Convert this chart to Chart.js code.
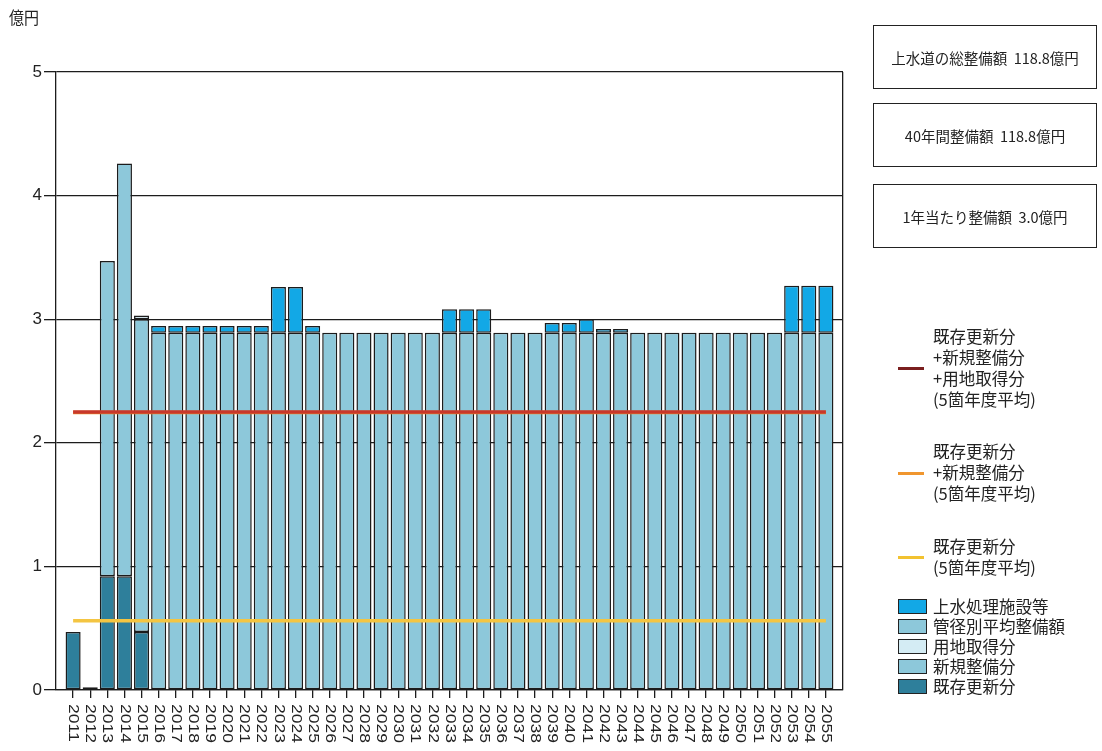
<!DOCTYPE html>
<html><head><meta charset="utf-8">
<script src="https://cdn.jsdelivr.net/npm/chart.js@4.4.0/dist/chart.umd.min.js"></script>
<style>
body{margin:0;background:#fff;width:1102px;height:751px;overflow:hidden;position:relative;font-family:"Noto Sans CJK JP","Noto Sans",sans-serif;color:#222;}
#c{position:absolute;left:0;top:0;}
.unit{position:absolute;left:9px;top:6px;font-size:15px;line-height:20px;transform:scaleY(1.12);transform-origin:left top;}
.box{position:absolute;left:873px;width:224px;height:64px;border:1.5px solid #222;box-sizing:border-box;display:flex;align-items:center;justify-content:center;font-size:14.5px;white-space:pre;}
.ltxt{position:absolute;left:933px;font-size:16.5px;line-height:21px;white-space:pre;}
.lline{position:absolute;left:898px;width:26px;height:3px;}
.sq{position:absolute;left:898px;width:29px;height:15px;border:1.5px solid #222;box-sizing:border-box;}
</style></head>
<body>
<canvas id="c" width="1102" height="751"></canvas>
<div class="unit">億円</div>
<div class="box" style="top:25px;height:64px;">上水道の総整備額  118.8億円</div>
<div class="box" style="top:103px;">40年間整備額  118.8億円</div>
<div class="box" style="top:184px;">1年当たり整備額  3.0億円</div>

<div class="lline" style="top:367px;background:#7a1f1f"></div>
<div class="ltxt" style="top:326px">既存更新分
+新規整備分
+用地取得分
(5箇年度平均)</div>
<div class="lline" style="top:472px;background:#f0962e"></div>
<div class="ltxt" style="top:441px">既存更新分
+新規整備分
(5箇年度平均)</div>
<div class="lline" style="top:556px;background:#f2c230"></div>
<div class="ltxt" style="top:536px">既存更新分
(5箇年度平均)</div>

<div class="sq" style="top:599px;background:#12a8e6"></div><div class="ltxt" style="top:596px">上水処理施設等</div>
<div class="sq" style="top:619px;background:#8dc8da"></div><div class="ltxt" style="top:616px">管径別平均整備額</div>
<div class="sq" style="top:639px;background:#d4ecf4"></div><div class="ltxt" style="top:636px">用地取得分</div>
<div class="sq" style="top:659px;background:#8dc8da"></div><div class="ltxt" style="top:656px">新規整備分</div>
<div class="sq" style="top:679px;background:#2e7f9b"></div><div class="ltxt" style="top:676px">既存更新分</div>

<script>
const years = [2011,2012,2013,2014,2015,2016,2017,2018,2019,2020,2021,2022,2023,2024,2025,2026,2027,2028,2029,2030,2031,2032,2033,2034,2035,2036,2037,2038,2039,2040,2041,2042,2043,2044,2045,2046,2047,2048,2049,2050,2051,2052,2053,2054,2055];
// 2011-2015
const existingRenewal = [0.47,0.022,0.92,0.92,0.47];
const newDevelopment  = [null,null,2.55,3.34,2.53];
const landAcquisition = [null,null,null,null,0.03];
// 2016-2055
const pipeAverage = [2.89,2.89,2.89,2.89,2.89,2.89,2.89,2.89,2.89,2.89,2.89,2.89,2.89,2.89,2.89,2.89,2.89,2.89,2.89,2.89,2.89,2.89,2.89,2.89,2.89,2.89,2.89,2.89,2.89,2.89,2.89,2.89,2.89,2.89,2.89,2.89,2.89,2.89,2.89,2.89];
const facilities  = [0.055,0.055,0.055,0.055,0.055,0.055,0.055,0.37,0.37,0.055,null,null,null,null,null,null,null,0.19,0.19,0.19,null,null,null,0.08,0.08,0.11,0.03,0.03,null,null,null,null,null,null,null,null,null,0.38,0.38,0.38];
// 5-year averages
const avgAll = [2.25];
const avgExistingNew = [2.245];
const avgExisting = [0.56];
const yTicks = [0,1,2,3,4,5];

const labels = ['', ...years.map(String), ''];
const early = arr => [null, ...years.map((y,i)=> i < arr.length ? arr[i] : null), null];
const late  = arr => [null, ...years.map((y,i)=> i >= 5 ? arr[i-5] : null), null];
const flat = v => [{x:String(years[0]), y:v}, {x:String(years[years.length-1]), y:v}];

const barBase = {type:'bar', stack:'s', borderColor:'#1c1c1c', borderWidth:1.5, borderSkipped:false, categoryPercentage:1, barPercentage:0.88, order:2};

const xLabelPlugin = {
  id:'xLabels',
  afterDraw(chart){
    const s = chart.scales.x, ctx = chart.ctx;
    const labs = s.getLabels();
    ctx.save();
    ctx.font = '14px "Liberation Sans", Arial, sans-serif';
    ctx.fillStyle = '#222';
    ctx.textAlign = 'left'; ctx.textBaseline = 'middle';
    s.ticks.forEach((t,i)=>{
      const lab = labs[t.value];
      if(!lab) return;
      const x = s.getPixelForTick(i);
      ctx.save();
      ctx.translate(x, s.top + 14);
      ctx.rotate(Math.PI/2);
      ctx.scale(1.25,1);
      ctx.fillText(lab, 0, 0);
      ctx.restore();
    });
    ctx.restore();
  }
};

new Chart(document.getElementById('c'), {
  data:{
    labels,
    datasets:[
      {...barBase, label:'既存更新分', data:early(existingRenewal), backgroundColor:'#2e7f9b'},
      {...barBase, label:'新規整備分', data:early(newDevelopment), backgroundColor:'#8dc8da'},
      {...barBase, label:'用地取得分', data:early(landAcquisition), backgroundColor:'#d4ecf4'},
      {...barBase, label:'管径別平均整備額', data:late(pipeAverage), backgroundColor:'#8dc8da'},
      {...barBase, label:'上水処理施設等', data:late(facilities), backgroundColor:'#12a8e6'},
      {type:'line', label:'既存更新分+新規整備分(5箇年度平均)', stack:'l2', data:flat(avgExistingNew[0]), borderColor:'#f0962e', borderWidth:3.5, pointRadius:0, order:1},
      {type:'line', label:'既存更新分+新規整備分+用地取得分(5箇年度平均)', stack:'l1', data:flat(avgAll[0]), borderColor:'#c8382b', borderWidth:3.5, pointRadius:0, order:0},
      {type:'line', label:'既存更新分(5箇年度平均)', stack:'l3', data:flat(avgExisting[0]), borderColor:'#f4c542', borderWidth:3.5, pointRadius:0, order:0}
    ]
  },
  options:{
    responsive:false, animation:false, devicePixelRatio:1,
    layout:{padding:{left:0, top:72, right:259, bottom:0}},
    plugins:{legend:{display:false}, tooltip:{enabled:false}},
    scales:{
      x:{
        type:'category', stacked:true, offset:false,
        grid:{offset:false, drawOnChartArea:true, drawTicks:true, tickLength:8,
          color:c=> c.index === labels.length-1 ? '#1c1c1c' : 'rgba(0,0,0,0)',
          tickColor:c=> (c.index===0 || c.index===labels.length-1) ? 'rgba(0,0,0,0)' : '#1c1c1c',
          lineWidth:1.3, tickWidth:1.3},
        border:{display:true, color:'#1c1c1c', width:1.3},
        ticks:{display:false, autoSkip:false},
        afterFit:s=>{ s.height = 61; }
      },
      y:{
        stacked:true, min:0, max:5,
        afterBuildTicks:s=>{ s.ticks = yTicks.map(v=>({value:v})); },
        grid:{color:'#1c1c1c', lineWidth:1.3, tickLength:12},
        border:{display:true, color:'#1c1c1c', width:1.3},
        ticks:{font:{family:'"Liberation Sans", Arial, sans-serif', size:17}, color:'#222', padding:2},
        afterFit:s=>{ s.width = 56; }
      }
    }
  },
  plugins:[xLabelPlugin]
});
</script>
</body></html>
